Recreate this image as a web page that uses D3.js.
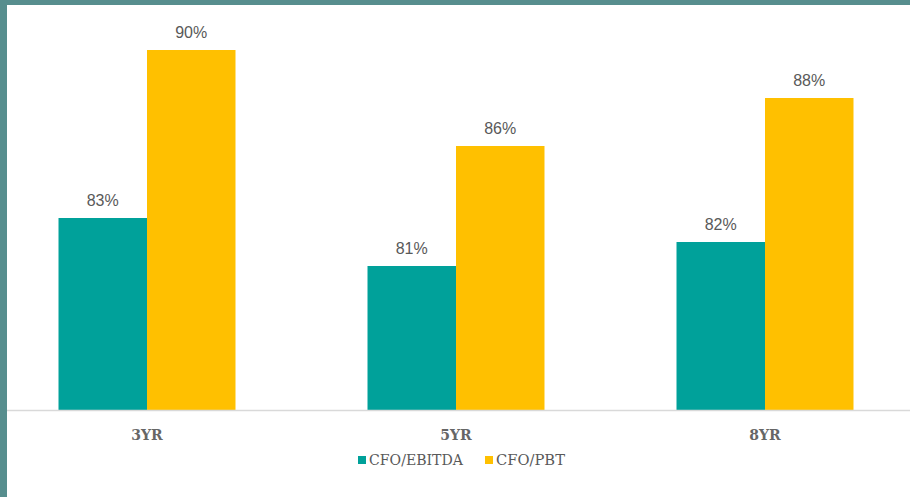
<!DOCTYPE html>
<html>
<head>
<meta charset="utf-8">
<script src="https://cdn.jsdelivr.net/npm/d3@7/dist/d3.min.js"></script>
<style>
  html, body { margin: 0; padding: 0; background: #ffffff; }
  svg { display: block; }
</style>
</head>
<body>
<svg id="chart" width="910" height="497"></svg>
<script>
// Cash conversion ratios over trailing periods
const categories = ["3YR", "5YR", "8YR"];
const seriesNames = ["CFO/EBITDA", "CFO/PBT"];
const cfoEbitda = [83, 81, 82];
const cfoPbt = [90, 86, 88];
const seriesColors = ["#00A19A", "#FFC000"];

const W = 910, H = 497;
const svg = d3.select("#chart");

// frame
svg.append("rect").attr("x", 0).attr("y", 0).attr("width", W).attr("height", H).attr("fill", "#578E8E");
svg.append("rect").attr("x", 7).attr("y", 5).attr("width", W - 7).attr("height", H - 5).attr("fill", "#ffffff");

const baseY = 410;
const x0 = d3.scaleBand().domain(categories).range([-7.5, 919.5])
  .paddingInner(0.4272).paddingOuter(0.2136);
const x1 = d3.scaleBand().domain(seriesNames).range([0, x0.bandwidth()]);
const y = d3.scaleLinear().domain([75, 90]).range([baseY, 50]);

const rows = categories.map((c, i) => ({ cat: c, vals: [cfoEbitda[i], cfoPbt[i]] }));

const groups = svg.append("g").selectAll("g").data(rows).join("g")
  .attr("transform", d => `translate(${x0(d.cat)},0)`);

groups.selectAll("rect").data(d => d.vals.map((v, j) => ({ v, s: seriesNames[j], j })))
  .join("rect")
  .attr("x", d => x1(d.s))
  .attr("y", d => y(d.v))
  .attr("width", x1.bandwidth())
  .attr("height", d => baseY - y(d.v))
  .attr("fill", d => seriesColors[d.j]);

groups.selectAll("text.val").data(d => d.vals.map((v, j) => ({ v, s: seriesNames[j] })))
  .join("text").attr("class", "val")
  .attr("x", d => x1(d.s) + x1.bandwidth() / 2)
  .attr("y", d => y(d.v) - 12)
  .attr("text-anchor", "middle")
  .attr("font-family", "'Liberation Sans Narrow', 'Liberation Sans', sans-serif")
  .attr("font-size", 16)
  .attr("fill", "#595959")
  .text(d => d.v + "%");

// category axis
const xAxis = svg.append("g").attr("transform", `translate(0,${baseY})`)
  .call(d3.axisBottom(x0).tickSize(0).tickPadding(20));
xAxis.select(".domain").remove();
xAxis.append("line").attr("x1", 7).attr("x2", W).attr("y1", 0.5).attr("y2", 0.5)
  .attr("stroke", "#D9D9D9").attr("stroke-width", 1.5);
xAxis.selectAll("text")
  .attr("font-family", "'DejaVu Serif', serif")
  .attr("font-size", 14)
  .attr("font-weight", "bold")
  .attr("fill", "#666666");

// legend
const legendItems = [
  { name: seriesNames[0], color: seriesColors[0], x: 358, w: 94 },
  { name: seriesNames[1], color: seriesColors[1], x: 485, w: 69 }
];
const lg = svg.append("g").selectAll("g").data(legendItems).join("g")
  .attr("transform", d => `translate(${d.x},460)`);
lg.append("rect").attr("x", 0).attr("y", -4).attr("width", 8).attr("height", 8).attr("fill", d => d.color);
lg.append("text").attr("x", 11).attr("y", 0).attr("dy", "0.35em")
  .attr("font-family", "'DejaVu Serif', serif")
  .attr("font-size", 14)
  .attr("fill", "#595959")
  .attr("textLength", d => d.w)
  .attr("lengthAdjust", "spacingAndGlyphs")
  .text(d => d.name);
</script>
</body>
</html>
